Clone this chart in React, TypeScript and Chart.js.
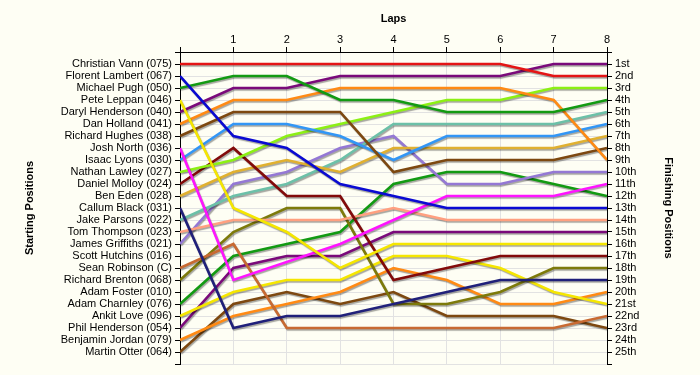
import React, { useEffect, useRef } from "react";
import { Chart, registerables } from "chart.js";

Chart.register(...registerables);

// ---- data ----
const laps = [0, 1, 2, 3, 4, 5, 6, 7, 8];

const startingNames = [
  "Christian Vann (075)", "Florent Lambert (067)", "Michael Pugh (050)", "Pete Leppan (046)",
  "Daryl Henderson (040)", "Dan Holland (041)", "Richard Hughes (038)", "Josh North (036)",
  "Isaac Lyons (030)", "Nathan Lawley (027)", "Daniel Molloy (024)", "Ben Eden (028)",
  "Callum Black (031)", "Jake Parsons (022)", "Tom Thompson (023)", "James Griffiths (021)",
  "Scott Hutchins (016)", "Sean Robinson (C)", "Richard Brenton (068)", "Adam Foster (010)",
  "Adam Charnley (076)", "Ankit Love (096)", "Phil Henderson (054)", "Benjamin Jordan (079)",
  "Martin Otter (064)",
];

const finishLabels = [
  "1st", "2nd", "3rd", "4th", "5th", "6th", "7th", "8th", "9th", "10th", "11th", "12th", "13th",
  "14th", "15th", "16th", "17th", "18th", "19th", "20th", "21st", "22nd", "23rd", "24th", "25th",
];

// positions per lap (lap 0 .. lap 8); null = no position recorded
const christianVann = [1, 1, 1, 1, 1, 1, 1, 2, 2];
const florentLambert = [2, 7, 8, 11, 12, 13, 13, 13, 13];
const michaelPugh = [3, 2, 2, 4, 4, 5, 5, 5, 4];
const peteLeppan = [4, 13, 15, 18, 16, 16, 16, 16, 16];
const darylHenderson = [5, 3, 3, 2, 2, 2, 2, 1, 1];
const danHolland = [6, 4, 4, 3, 3, 3, 3, 4, 9];
const richardHughes = [7, 5, 5, 5, 10, 9, 9, 9, 8];
const joshNorth = [8, 19, null, 16, 14, 12, 12, 12, 11];
const isaacLyons = [9, 6, 6, 7, 9, 7, 7, 7, 6];
const nathanLawley = [10, 9, 7, 6, 5, 4, 4, 3, 3];
const danielMolloy = [11, 8, 12, 12, 19, 18, 17, 17, 17];
const benEden = [12, 10, 9, 10, 8, 8, 8, 8, 7];
const callumBlack = [13, 23, 22, 22, null, 20, 19, 19, 19];
const jakeParsons = [14, 12, 11, 9, 6, 6, 6, 6, 5];
const tomThompson = [15, 14, 14, 14, 13, 14, 14, 14, 14];
const jamesGriffiths = [16, 11, 10, 8, 7, 11, 11, 10, 10];
const scottHutchins: (number | null)[] = [];
const seanRobinson = [18, 16, 23, 23, 23, 23, 23, 23, 22];
const richardBrenton = [19, 15, 13, 13, 21, 21, 20, 18, 18];
const adamFoster: (number | null)[] = [];
const adamCharnley = [21, 17, 16, 15, 11, 10, 10, 11, 12];
const ankitLove = [22, 20, 19, 19, 17, 17, 18, 20, 21];
const philHenderson = [23, 18, 17, 17, 15, 15, 15, 15, 15];
const benjaminJordan = [24, 22, 21, 20, 18, 19, 21, 21, 20];
const martinOtter = [25, 21, 20, 21, 20, 22, 22, 22, 23];

const driverSeries: (number | null)[][] = [
  christianVann, florentLambert, michaelPugh, peteLeppan, darylHenderson, danHolland,
  richardHughes, joshNorth, isaacLyons, nathanLawley, danielMolloy, benEden, callumBlack,
  jakeParsons, tomThompson, jamesGriffiths, scottHutchins, seanRobinson, richardBrenton,
  adamFoster, adamCharnley, ankitLove, philHenderson, benjaminJordan, martinOtter,
];

// ---- styles ----
const lineColors = [
  "#e41414", "#0a0ad2", "#129a12", "#f5e600", "#7a0a7a", "#ff8a14", "#7d4810", "#ff14ff",
  "#3296f5", "#8cf014", "#820a0a", "#e0b030", "#20207a", "#6cc0a8", "#ffa080", "#9478d4",
  "#000000", "#c86a32", "#7d7a0a", "#000000", "#129a12", "#f5e600", "#7a0a7a", "#ff8a14",
  "#7d4810",
];

const FONT = "'Liberation Sans', Arial, sans-serif";

const bgPlugin = {
  id: "bg",
  beforeDraw(chart: any) {
    const c = chart.ctx;
    c.save();
    c.fillStyle = "#fefef4";
    c.fillRect(0, 0, chart.width, chart.height);
    c.restore();
  },
};

const shadowPlugin = {
  id: "shadow",
  beforeDatasetsDraw(chart: any) {
    const c = chart.ctx;
    c.save();
    c.shadowColor = "rgba(0,0,0,0.35)";
    c.shadowOffsetX = 1;
    c.shadowOffsetY = 1.5;
    c.shadowBlur = 1;
  },
  afterDatasetsDraw(chart: any) {
    chart.ctx.restore();
  },
};

export default function App() {
  const ref = useRef<HTMLCanvasElement | null>(null);

  useEffect(() => {
    if (!ref.current) return;
    const datasets = driverSeries
      .map((series, i) => ({ series, i }))
      .filter((d) => d.series.length > 0)
      .map(({ series, i }) => ({
        label: startingNames[i],
        data: laps.map((lap, k) => ({ x: lap, y: series[k] })),
        borderColor: lineColors[i],
        backgroundColor: lineColors[i],
        borderWidth: 2.6,
        pointRadius: 0,
        tension: 0,
        spanGaps: true,
        fill: false,
      }));

    const tickFont = { family: FONT, size: 11 };
    const titleFont = { family: FONT, size: 11, weight: "bold" as const };

    const chart = new Chart(ref.current, {
      type: "line",
      data: { datasets },
      plugins: [bgPlugin, shadowPlugin],
      options: {
        animation: false,
        responsive: false,
        devicePixelRatio: 1,
        layout: { padding: { left: 0, right: 0, top: 0, bottom: 11 } },
        plugins: { legend: { display: false }, tooltip: { enabled: false } },
        scales: {
          x: {
            type: "linear",
            position: "top",
            min: 0,
            max: 8,
            afterFit: (s: any) => { s.height = 52; },
            ticks: {
              stepSize: 1,
              color: "#000",
              font: tickFont,
              padding: 0,
              callback: (v: any) => (v === 0 ? "" : String(v)),
            },
            grid: { color: "#e2e2e2", tickColor: "#000", tickLength: 5, lineWidth: 1 },
            border: { display: true, color: "#000", width: 1 },
            title: { display: true, text: "Laps", color: "#000", font: titleFont, padding: { top: 12, bottom: 0 } },
          },
          y: {
            type: "linear",
            position: "left",
            reverse: true,
            min: 0,
            max: 26,
            afterFit: (s: any) => { s.width = 180; },
            ticks: {
              stepSize: 1,
              autoSkip: false,
              color: "#000",
              font: tickFont,
              padding: 3,
              callback: (v: any) => (v >= 1 && v <= 25 ? startingNames[v - 1] : ""),
            },
            grid: { color: "#e2e2e2", tickColor: "#000", tickLength: 5, lineWidth: 1 },
            border: { display: true, color: "#000", width: 1 },
            title: { display: true, text: "Starting Positions", color: "#000", font: titleFont, padding: { top: 23, bottom: 0 } },
          },
          y2: {
            type: "linear",
            position: "right",
            reverse: true,
            min: 0,
            max: 26,
            afterFit: (s: any) => { s.width = 93; },
            ticks: {
              stepSize: 1,
              autoSkip: false,
              color: "#000",
              font: tickFont,
              padding: 3,
              callback: (v: any) => (v >= 1 && v <= 25 ? finishLabels[v - 1] : ""),
            },
            grid: { drawOnChartArea: false, tickColor: "#000", tickLength: 5 },
            border: { display: true, color: "#000", width: 1 },
            title: { display: true, text: "Finishing Positions", color: "#000", font: titleFont, padding: { top: 25, bottom: 0 } },
          },
        },
      },
    });
    return () => chart.destroy();
  }, []);

  return (
    <div style={{ position: "absolute", left: 0, top: 0, width: 700, height: 375, background: "#fefef4" }}>
      <canvas ref={ref} width={700} height={375} style={{ display: "block", width: 700, height: 375 }} />
    </div>
  );
}
